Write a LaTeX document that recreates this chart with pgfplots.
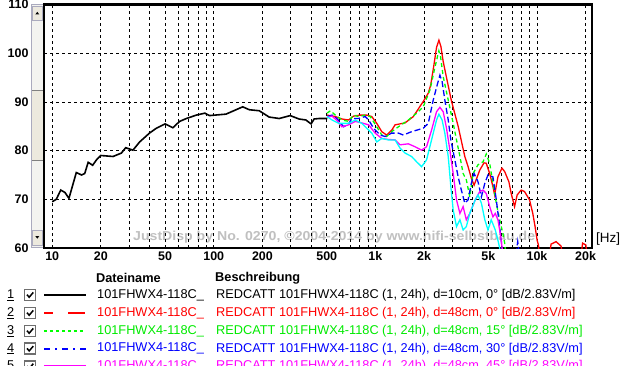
\documentclass[border=0pt]{standalone}
\usepackage{fontspec}
\setmainfont{Liberation Sans}
\usepackage{pgfplots}
\pgfplotsset{compat=1.18}
\definecolor{cred}{RGB}{255,0,0}
\definecolor{cgreen}{RGB}{0,255,0}
\definecolor{cgreentxt}{RGB}{0,235,0}
\definecolor{cblue}{RGB}{0,0,255}
\definecolor{cmag}{RGB}{255,0,255}
\definecolor{ccyan}{RGB}{0,255,255}
\definecolor{wmark}{RGB}{192,192,192}
\definecolor{sbtrack}{RGB}{243,243,240}
\definecolor{sbthumb}{RGB}{236,233,222}
\definecolor{sbborder}{RGB}{170,170,190}
\definecolor{cbox}{RGB}{110,110,110}
\tikzset{
  ls1/.style={solid},
  ls2/.style={dash pattern=on 17bp off 15bp, dash phase=8bp},
  ls3/.style={dash pattern=on 2.5bp off 3.5bp},
  ls4/.style={dash pattern=on 6bp off 5bp on 2bp off 5bp},
  ls5/.style={solid},
  lgd/.style={anchor=west,font=\fontsize{12.8}{14}\selectfont,inner sep=0pt},
}
\begin{document}
\begin{tikzpicture}[x=1bp,y=1bp]
\useasboundingbox (0,0) rectangle (624,365);
\fill[white] (0,0) rectangle (624,365);
% scrollbar (decoration)
\fill[sbtrack] (31.5,118) rectangle (43,361);
\draw[sbborder,line width=0.8bp] (31.5,118) rectangle (43,361);
\fill[sbthumb] (32,205) rectangle (42.5,275);
\draw[gray,line width=0.8bp] (32,205) -- (42.5,205) (32,275) -- (42.5,275);
\fill[sbthumb] (32,345) rectangle (42.5,359);
\draw[sbborder,line width=0.6bp] (32,345) rectangle (42.5,359);
\fill[black] (35.3,350.5) -- (39.3,350.5) -- (37.3,353.2) -- cycle;
\fill[sbthumb] (32,120) rectangle (42.5,135);
\draw[sbborder,line width=0.6bp] (32,120) rectangle (42.5,135);
\fill[black] (35.3,129) -- (39.3,129) -- (37.3,126.3) -- cycle;
% watermark
\node[anchor=west,text=wmark,font=\fontsize{13}{14}\selectfont\bfseries,inner sep=0pt,xscale=1.09] at (133,127.5) {JustDisp by No. 0270, ©2004-2014 by www.hifi-selbstbau.de};
\begin{axis}[
  at={(44bp,117bp)}, anchor=south west,
  width=548bp, height=243.4bp, scale only axis,
  xmode=log, xmin=8.9, xmax=21900, ymin=60, ymax=110,
  axis line style={line width=2.2bp, black},
  xtick={10,20,30,40,50,60,70,80,90,100,200,300,400,500,600,700,800,900,1000,2000,3000,4000,5000,6000,7000,8000,9000,10000,20000},
  xticklabels={10,20,{},{},50,{},{},{},{},100,200,{},{},500,{},{},{},{},1k,2k,{},{},5k,{},{},{},{},10k,20k},
  ytick={60,70,80,90,100,110},
  yticklabels={60,70,80,90,100,110},
  major tick length=0pt,
  grid=major,
  major grid style={black, line width=0.8bp, dash pattern=on 3bp off 3bp},
  tick label style={font=\fontsize{12.5}{14}\selectfont\bfseries},
  yticklabel style={xshift=-12bp},
  /pgf/number format/assume math mode=true,
  clip=true,
]
\addplot[black, line width=1.6bp] coordinates {(10,69.5)(10.6,70)(11.3,71.9)(12,71.4)(12.7,70.2)(14.1,75.5)(15.2,75)(15.9,75.3)(16.7,77.6)(17.8,77)(18.8,78.1)(20,79)(23.8,78.8)(26.8,79.5)(28.5,80.6)(31.6,80.1)(34.8,81.8)(40,83.6)(44.1,84.6)(50,85.5)(55.8,84.7)(61.4,86)(67.7,86.6)(78,87.3)(88,87.7)(94,87.2)(119,87.5)(151,89)(166,88.4)(191,88.2)(220,86.9)(254,86.6)(297,87.2)(337,86.5)(371,86.3)(400,85.5)(418,86.5)(448,86.6)(505,86.6)};
\addplot[cred, line width=1.3bp] coordinates {(502,87.3)(565,87.0)(621,86.5)(683,86.3)(733,87.1)(806,87.3)(885,87.3)(950,87.0)(1020,85.6)(1095,83.9)(1175,83.2)(1262,84.2)(1324,85.3)(1526,85.7)(1717,87.0)(1978,90.1)(2124,91.8)(2200,93.5)(2300,97.5)(2390,101.2)(2472,102.7)(2543,101.4)(2628,98.3)(2755,95)(2956,90.2)(3252,85)(3575,78.8)(3747,76.7)(3927,74.3)(4081,72.9)(4425,76.0)(4700,77.5)(4855,77.4)(5096,75.3)(5339,72.6)(5470,70.9)(5730,74.6)(6070,76.4)(6310,75.7)(6700,73.6)(6925,71.2)(7265,68.5)(7540,70.9)(7980,71.9)(8370,71.6)(8990,69.9)(9420,67.1)(9730,64.4)(10020,61.6)(10210,60.6)(10500,57)(11800,57)(12220,60.8)(13120,61.3)(14090,60.4)(14600,57)(18500,57)(19150,61)(20080,60.6)(20500,57)};
\addplot[cgreen, line width=1.3bp, dash pattern=on 4bp off 3bp] coordinates {(502,87.7)(527,88.2)(565,87.3)(621,86.3)(683,86.0)(733,87.3)(787,87.0)(865,87.3)(929,87.0)(1020,84.9)(1095,83.2)(1175,82.9)(1262,83.9)(1388,84.9)(1600,86.3)(1800,87.7)(1978,89.0)(2178,92.5)(2339,97.2)(2470,100.5)(2530,99.3)(2628,95.2)(2823,90.4)(3030,85.6)(3177,82.2)(3335,78.8)(3491,75.3)(3654,74.0)(3839,70.5)(4022,75.3)(4317,77.1)(4634,77.7)(4855,79.3)(5096,77.4)(5339,73.3)(5600,69.2)(5875,65.8)(6150,63.0)(6310,61)(6500,57)};
\addplot[cblue, line width=1.3bp, dash pattern=on 6bp off 3bp] coordinates {(502,87.0)(539,87.3)(578,86.6)(637,84.9)(683,85.5)(715,86.6)(787,86.6)(865,87.0)(908,86.3)(975,84.6)(1071,83.2)(1149,82.9)(1262,83.6)(1388,83.6)(1490,83.2)(1675,83.9)(1978,84.6)(2124,85.6)(2280,90.4)(2426,93.8)(2508,95.5)(2587,94.2)(2690,90.4)(2823,86.3)(2931,82.2)(3103,78.1)(3252,74.6)(3404,71.9)(3575,69.2)(3747,69.9)(3927,73.3)(4081,75.3)(4317,73.6)(4530,70.5)(4755,73.3)(4974,75.0)(5339,74.6)(5600,69.9)(5875,64.4)(6070,60.3)(6200,57)(7300,57)(7600,61.3)(7900,57)};
\addplot[cmag, line width=1.3bp] coordinates {(502,86.8)(539,87.1)(578,86.2)(621,84.9)(683,85.3)(751,86.0)(824,85.7)(908,85.3)(997,83.6)(1095,82.5)(1204,82.3)(1324,82.2)(1422,81.2)(1600,81.4)(1759,80.8)(1932,80.1)(2073,80.8)(2226,84.2)(2390,88.0)(2508,88.9)(2628,88.0)(2755,84.6)(2890,80.1)(3030,75.3)(3177,69.9)(3335,67.1)(3491,68.5)(3654,65.8)(3839,67.1)(4150,69.9)(4425,71.6)(4634,71.9)(4855,71.2)(5096,68.5)(5339,66.4)(5520,67.1)(5730,65.8)(5925,63.0)(6070,60.3)(6200,57)};
\addplot[ccyan, line width=1.3bp] coordinates {(502,87.0)(539,86.3)(593,85.6)(683,85.6)(751,86.3)(824,85.6)(885,84.6)(950,83.6)(1020,81.8)(1095,82.5)(1204,82.2)(1324,82.2)(1422,80.5)(1526,79.5)(1675,78.8)(1800,77.7)(1932,76.7)(2073,78.1)(2226,82.2)(2390,86.3)(2472,87.5)(2587,86.3)(2690,83.6)(2823,78.8)(2931,72.6)(3030,67.8)(3177,64.4)(3335,65.8)(3491,63.7)(3654,64.4)(3839,67.1)(4150,69.9)(4317,70.9)(4530,69.2)(4755,65.8)(4974,63.7)(5210,65.8)(5520,63.7)(5730,61.6)(5875,60)(6000,57)};
\end{axis}
% Hz label
\node[anchor=west,font=\fontsize{13.5}{15}\selectfont,inner sep=0pt] at (596,126) {[Hz]};
% legend table
\node[anchor=west,font=\fontsize{12.8}{14}\selectfont\bfseries,inner sep=0pt] at (96,87) {Dateiname};
\node[anchor=west,font=\fontsize{12.8}{14}\selectfont\bfseries,inner sep=0pt] at (215,87) {Beschreibung};
\foreach \yc/\num/\col/\lsty in {70/1/black/ls1,52/2/cred/ls2,34/3/cgreen/ls3,16.3/4/cblue/ls4,-1.3/5/cmag/ls5}{
  \node[lgd] at (7,\yc) {\underline{\num}};
  \fill[white] (24.5,\yc-5.5) rectangle (35.5,\yc+5.5);
  \draw[cbox,line width=1.6bp] (24.5,\yc-5.5) rectangle (35.5,\yc+5.5);
  \draw[black,line width=1.5bp] (27,\yc+0.3) -- (29.2,\yc-2.2) -- (33.3,\yc+2.6);
  \draw[\col,line width=2bp,\lsty] (44,\yc) -- (86,\yc);
}
\node[lgd,text=black] at (97,70) {101FHWX4-118C\_};
\node[lgd,text=black] at (216,70) {REDCATT 101FHWX4-118C (1, 24h), d=10cm, 0° [dB/2.83V/m]};
\node[lgd,text=cred] at (97,52) {101FHWX4-118C\_};
\node[lgd,text=cred] at (216,52) {REDCATT 101FHWX4-118C (1, 24h), d=48cm, 0° [dB/2.83V/m]};
\node[lgd,text=cgreentxt] at (97,34) {101FHWX4-118C\_};
\node[lgd,text=cgreentxt] at (216,34) {REDCATT 101FHWX4-118C (1, 24h), d=48cm, 15° [dB/2.83V/m]};
\node[lgd,text=cblue] at (97,16.3) {101FHWX4-118C\_};
\node[lgd,text=cblue] at (216,16.3) {REDCATT 101FHWX4-118C (1, 24h), d=48cm, 30° [dB/2.83V/m]};
\node[lgd,text=cmag] at (97,-1.3) {101FHWX4-118C\_};
\node[lgd,text=cmag] at (216,-1.3) {REDCATT 101FHWX4-118C (1, 24h), d=48cm, 45° [dB/2.83V/m]};
\end{tikzpicture}
\end{document}
